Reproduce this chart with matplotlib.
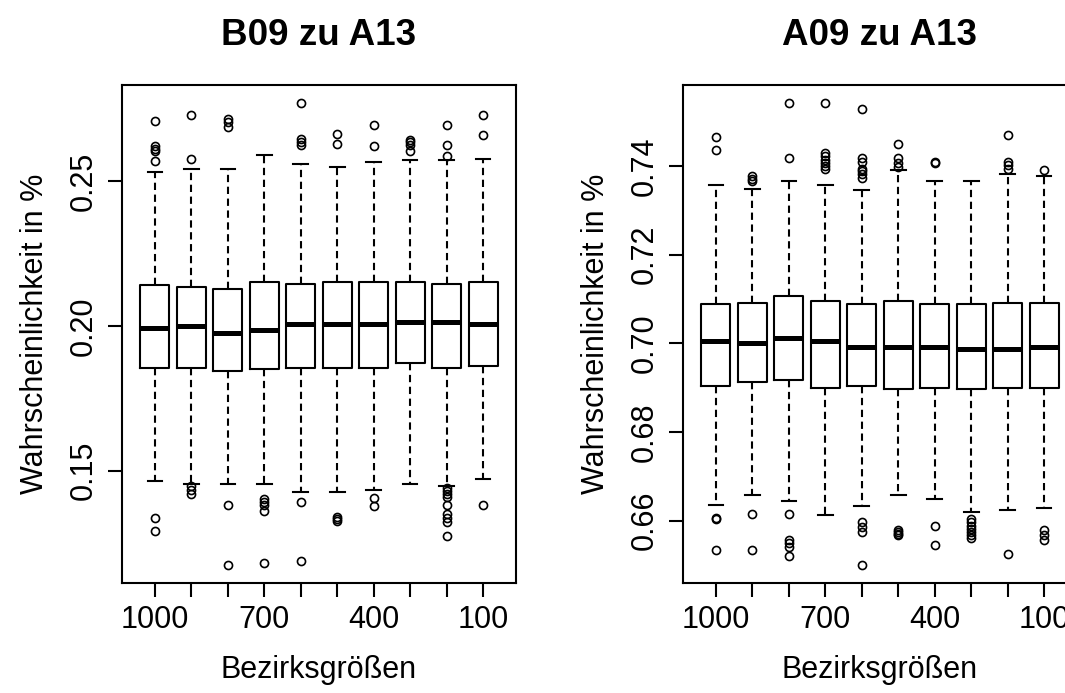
import matplotlib
matplotlib.use("Agg")
import matplotlib.pyplot as plt
import numpy as np

plt.rcParams['font.family'] = ['Liberation Sans', 'DejaVu Sans']

# Bezirksgroessen (x categories)
groessen = [1000, 900, 800, 700, 600, 500, 400, 300, 200, 100]
shown_labels = ['1000', '', '', '700', '', '', '400', '', '', '100']

# B09 zu A13
b_q1 = [0.1856, 0.1856, 0.1844, 0.1850, 0.1856, 0.1856, 0.1856, 0.1871, 0.1856, 0.1863]
b_med = [0.1993, 0.1999, 0.1974, 0.1985, 0.2006, 0.2006, 0.2006, 0.2012, 0.2012, 0.2006]
b_q3 = [0.2140, 0.2134, 0.2126, 0.2151, 0.2146, 0.2151, 0.2151, 0.2151, 0.2146, 0.2151]
b_lo = [0.1465, 0.1453, 0.1453, 0.1453, 0.1427, 0.1427, 0.1433, 0.1453, 0.1445, 0.1472]
b_hi = [0.2533, 0.2544, 0.2544, 0.2590, 0.2558, 0.2551, 0.2566, 0.2572, 0.2572, 0.2576]
b_out = [
    [0.2710, 0.2622, 0.2612, 0.2603, 0.2570, 0.1336, 0.1292],
    [0.2730, 0.2577, 0.1448, 0.1434, 0.1420],
    [0.2716, 0.2704, 0.2687, 0.1380, 0.1175],
    [0.1401, 0.1392, 0.1381, 0.1361, 0.1181],
    [0.2769, 0.2647, 0.2636, 0.2624, 0.1390, 0.1188],
    [0.2665, 0.2630, 0.1341, 0.1333, 0.1325],
    [0.2693, 0.2621, 0.1404, 0.1376],
    [0.2644, 0.2636, 0.2627, 0.2604],
    [0.2693, 0.2624, 0.2587, 0.1441, 0.1430, 0.1418, 0.1407, 0.1380,
     0.1349, 0.1336, 0.1321, 0.1273],
    [0.2730, 0.2659, 0.1380],
]

# A09 zu A13
a_q1 = [0.6903, 0.6913, 0.6918, 0.6899, 0.6903, 0.6897, 0.6899, 0.6897, 0.6899, 0.6899]
a_med = [0.7005, 0.7001, 0.7013, 0.7005, 0.6992, 0.6992, 0.6992, 0.6988, 0.6988, 0.6992]
a_q3 = [0.7088, 0.7092, 0.7106, 0.7095, 0.7088, 0.7095, 0.7088, 0.7088, 0.7092, 0.7092]
a_lo = [0.6636, 0.6659, 0.6644, 0.6612, 0.6633, 0.6659, 0.6649, 0.6619, 0.6623, 0.6629]
a_hi = [0.7356, 0.7348, 0.7366, 0.7356, 0.7345, 0.7392, 0.7366, 0.7366, 0.7382, 0.7377]
a_out = [
    [0.7466, 0.7437, 0.6607, 0.6603, 0.6533],
    [0.7377, 0.7371, 0.7366, 0.6616, 0.6533],
    [0.7541, 0.7418, 0.6616, 0.6556, 0.6549, 0.6541, 0.6520],
    [0.7541, 0.7429, 0.7422, 0.7414, 0.7407, 0.7399, 0.7394],
    [0.7528, 0.7418, 0.7410, 0.7394, 0.7388, 0.7381, 0.7372,
     0.6597, 0.6586, 0.6575, 0.6501],
    [0.7449, 0.7419, 0.7407, 0.7397, 0.6578, 0.6575, 0.6571, 0.6567],
    [0.7410, 0.7407, 0.6589, 0.6545],
    [0.6604, 0.6597, 0.6589, 0.6582, 0.6575, 0.6567, 0.6560],
    [0.7470, 0.7410, 0.7403, 0.7394, 0.6524],
    [0.7392, 0.6579, 0.6568, 0.6557],
]


def r_boxplot(ax, q1, med, q3, lo, hi, out, title):
    stats = []
    for i in range(len(groessen)):
        stats.append(dict(q1=q1[i], med=med[i], q3=q3[i], whislo=lo[i],
                          whishi=hi[i], fliers=out[i]))
    pos = np.arange(1, len(groessen) + 1)
    lw = 1.5
    ax.bxp(stats, positions=pos, widths=0.8, showfliers=True,
           boxprops=dict(color='black', linewidth=lw),
           medianprops=dict(color='black', linewidth=3.6, solid_capstyle='butt'),
           whiskerprops=dict(color='black', linewidth=lw, linestyle=(0, (3.5, 2.2))),
           capprops=dict(color='black', linewidth=lw),
           capwidths=0.4,
           flierprops=dict(marker='o', markerfacecolor='none',
                           markeredgecolor='black', markersize=5.8,
                           markeredgewidth=1.2))
    # R style axis limits (4% extension)
    allv = lo + hi + [v for o in out for v in o]
    vmin, vmax = min(allv), max(allv)
    ext = (vmax - vmin) * 0.04
    ax.set_ylim(vmin - ext, vmax + ext)
    ax.set_xlim(0.1, 10.9)
    ax.set_xticks(pos)
    ax.set_xticklabels(shown_labels)
    for s in ax.spines.values():
        s.set_linewidth(lw)
        s.set_color('black')
    ax.tick_params(axis='both', length=10, width=lw, labelsize=22, color='black')
    ax.tick_params(axis='x', pad=6)
    ax.tick_params(axis='y', pad=7)
    ax.set_title(title, fontsize=26.5, fontweight='bold', pad=29)
    ax.set_xlabel('Bezirksgrößen', fontsize=22, labelpad=14)
    ax.set_ylabel('Wahrscheinlichkeit in %', fontsize=22, labelpad=13)


fig = plt.figure(figsize=(10.65, 6.93), dpi=100)
ax1 = fig.add_axes([122 / 1065, 110 / 693, 394 / 1065, 498 / 693])
ax2 = fig.add_axes([683 / 1065, 110 / 693, 394 / 1065, 498 / 693])

r_boxplot(ax1, b_q1, b_med, b_q3, b_lo, b_hi, b_out, 'B09 zu A13')
ax1.set_yticks([0.15, 0.20, 0.25])
ax1.set_yticklabels(['0.15', '0.20', '0.25'], rotation=90, va='center')

r_boxplot(ax2, a_q1, a_med, a_q3, a_lo, a_hi, a_out, 'A09 zu A13')
ax2.set_yticks([0.66, 0.68, 0.70, 0.72, 0.74])
ax2.set_yticklabels(['0.66', '0.68', '0.70', '0.72', '0.74'], rotation=90, va='center')

fig.savefig('out.png', dpi=100)
